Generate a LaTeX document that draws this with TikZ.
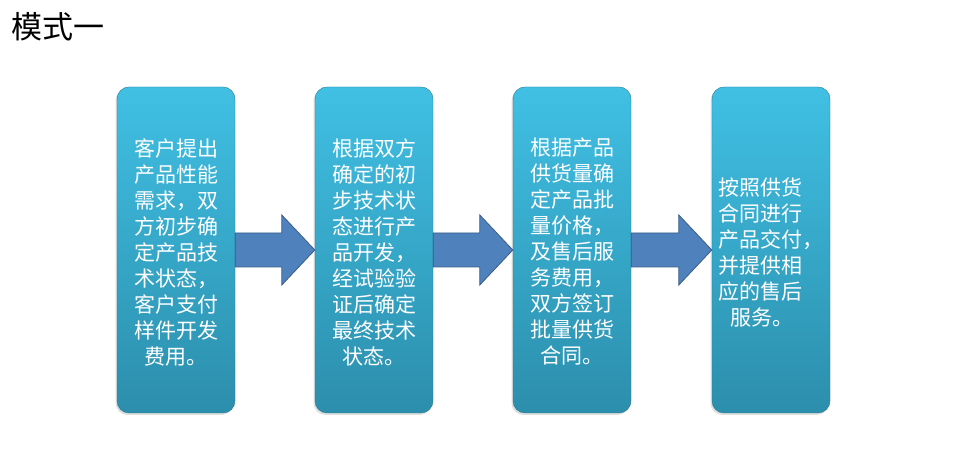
\documentclass[tikz,border=0pt]{standalone}
\usepackage{fontspec}
\newfontfamily\cjk{Noto Sans CJK SC}
\usetikzlibrary{calc,shadows}
\definecolor{boxtop}{RGB}{64,192,228}
\definecolor{boxbot}{RGB}{44,142,172}
\definecolor{arrfill}{RGB}{79,129,189}
\definecolor{arrdraw}{RGB}{56,93,138}
\tikzset{
  stagebox/.style={minimum width=118pt, minimum height=326pt, rounded corners=12pt,
    top color=boxtop, bottom color=boxbot, draw=boxbot!85!black, line width=0.4pt,
    drop shadow={opacity=0.25, shadow xshift=-1.5pt, shadow yshift=-2pt}, inner sep=0pt},
  stagetext/.style={text=white, font=\cjk\fontsize{21}{26}\selectfont, inner sep=0pt},
  blockarrow/.style={fill=arrfill, draw=arrdraw, line width=0.8pt, line join=miter},
}
\begin{document}
\begin{tikzpicture}[x=1pt,y=1pt]
\useasboundingbox (0,0) rectangle (975,454);
\node[anchor=base west, inner sep=0pt, font=\cjk\fontsize{31}{36}\selectfont] (title) at (11,415) {模式一};

\node[stagebox] (b1) at (176,204) {};
\node[stagebox] (b2) at (374,204) {};
\node[stagebox] (b3) at (572,204) {};
\node[stagebox] (b4) at (771,204) {};

\foreach \a/\b in {b1/b2, b2/b3, b3/b4} {
  \draw[blockarrow] ($(\a.east)+(0,17)$) -- ($(\b.west)+(-33,17)$) -- ($(\b.west)+(-33,35)$)
    -- (\b.west) -- ($(\b.west)+(-33,-35)$) -- ($(\b.west)+(-33,-17)$) -- ($(\a.east)+(0,-17)$) -- cycle;
}

\node[stagetext, align=center] (t1) at ($(b1.center)+(0,-2)$) {客户提出\\产品性能\\需求，双\\方初步确\\定产品技\\术状态，\\客户支付\\样件开发\\费用。};
\node[stagetext, align=center] (t2) at ($(b2.center)+(0,-2)$) {根据双方\\确定的初\\步技术状\\态进行产\\品开发，\\经试验验\\证后确定\\最终技术\\状态。};
\node[stagetext, align=center] (t3) at ($(b3.center)+(0,-2)$) {根据产品\\供货量确\\定产品批\\量价格，\\及售后服\\务费用，\\双方签订\\批量供货\\合同。};
\node[stagetext, align=left] (t4) at ($(b4.center)+(0,-2)$) {按照供货\\合同进行\\产品交付，\\并提供相\\应的售后\\\hspace*{12pt}服务。};
\end{tikzpicture}
\end{document}
